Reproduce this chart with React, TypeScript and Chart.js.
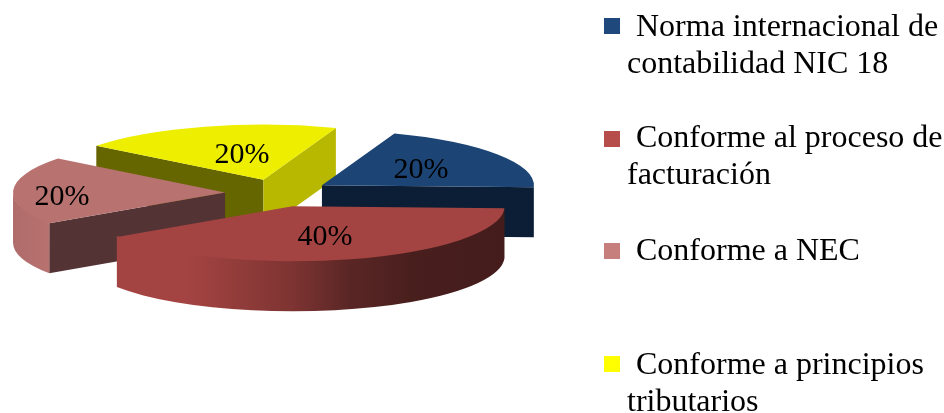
import { useEffect, useRef } from "react";
import { Chart, registerables } from "chart.js";

Chart.register(...registerables);

const SERIF = '"Liberation Serif", "Times New Roman", serif';

const categories = [
  "Norma internacional de contabilidad NIC 18",
  "Conforme al proceso de facturación",
  "Conforme a NEC",
  "Conforme a principios tributarios",
];
const legendLines = [
  ["Norma internacional de", "contabilidad NIC 18"],
  ["Conforme al proceso de", "facturación"],
  ["Conforme a NEC"],
  ["Conforme a principios", "tributarios"],
];
const shares = [20, 40, 20, 20];

const topColors = ["#1C4576", "#A44442", "#B87270", "#EEEE00"];
const legendColors = ["#1F497D", "#B64D4B", "#C77F7D", "#FFFF00"];
const startCutColors = ["#0C1E36", "#431C1B", "#533334", "#666600"];
const endCutColors = ["#0C1E36", "#431C1B", "#533334", "#B8B800"];
const wallStops: [number, string][][] = [
  [[0, "#0C1E36"], [1, "#0C1E36"]],
  [[0, "#A44442"], [0.18, "#A44442"], [0.45, "#7E3432"], [0.6, "#5A2625"], [0.76, "#491F1E"], [1, "#431C1B"]],
  [[0, "#AE6C6A"], [1, "#B87270"]],
  [[0, "#666600"], [1, "#666600"]],
];

// Back-to-front painting order and where each percentage label sits.
const paintOrder = [3, 0, 2, 1];
const labelReach = [0.563, 0.554, 0.77, 0.366];
const labelNudgeY = [2, 2, 6, -5];
const legendTextTops = [7, 118, 231, 345];
const legendMarkerTops = [18, 131, 243, 356];

const TILT = 0.26;
const DEPTH = 50;
const EXPLODE = 53;
const RADIUS = 212;

const pie3d = {
  id: "pie3d",
  beforeDatasetsDraw(chart: any) {
    const { ctx } = chart;
    const arcs = chart.getDatasetMeta(0).data;
    for (const i of paintOrder) {
      const arc = arcs[i];
      const { x, y, startAngle: a, endAngle: b, outerRadius: r } = arc;
      const mid = (a + b) / 2;
      const px = x + EXPLODE * Math.cos(mid);
      const py = y + EXPLODE * Math.sin(mid) * TILT;
      const ry = r * TILT;
      const rimX = (t: number) => px + r * Math.cos(t);
      const rimY = (t: number) => py + ry * Math.sin(t);

      // Flat faces exposed by pulling the slice away from the centre.
      const cut = (angle: number, color: string) => {
        const ex = rimX(angle);
        const ey = rimY(angle);
        ctx.beginPath();
        ctx.moveTo(px, py);
        ctx.lineTo(ex, ey);
        ctx.lineTo(ex, ey + DEPTH);
        ctx.lineTo(px, py + DEPTH);
        ctx.closePath();
        ctx.fillStyle = color;
        ctx.fill();
      };
      if (Math.sin(a - Math.PI / 2) > 0) cut(a, startCutColors[i]);
      if (Math.sin(b + Math.PI / 2) > 0) cut(b, endCutColors[i]);

      // Curved outer wall, only where it faces the viewer. Its upper rim
      // tucks one pixel under the top face so no seam shows between them.
      const w0 = Math.max(a, 0);
      const w1 = Math.min(b, Math.PI);
      if (w1 > w0) {
        const xs = [rimX(w0), rimX(w1)];
        const grad = ctx.createLinearGradient(Math.min(...xs), 0, Math.max(...xs), 0);
        for (const [stop, color] of wallStops[i]) grad.addColorStop(stop, color);
        ctx.beginPath();
        ctx.ellipse(px, py - 1, r, ry, 0, w0, w1);
        ctx.ellipse(px, py + DEPTH, r, ry, 0, w1, w0, true);
        ctx.closePath();
        ctx.fillStyle = grad;
        ctx.fill();
      }

      // Top face: the library's own arc, flattened and moved outwards.
      ctx.save();
      ctx.translate(px, py);
      ctx.scale(1, TILT);
      ctx.translate(-x, -y);
      arc.draw(ctx);
      ctx.restore();
    }

    const total = shares.reduce((s, v) => s + v, 0);
    ctx.save();
    ctx.font = `30px ${SERIF}`;
    ctx.fillStyle = "#000000";
    ctx.textAlign = "center";
    ctx.textBaseline = "middle";
    arcs.forEach((arc: any, i: number) => {
      const mid = (arc.startAngle + arc.endAngle) / 2;
      const reach = EXPLODE + labelReach[i] * arc.outerRadius;
      const lx = arc.x + reach * Math.cos(mid);
      const ly = arc.y + reach * Math.sin(mid) * TILT + labelNudgeY[i];
      ctx.fillText(`${Math.round((shares[i] / total) * 100)}%`, lx, ly);
    });
    ctx.restore();
    return false;
  },
};

export default function App() {
  const canvasRef = useRef<HTMLCanvasElement>(null);

  useEffect(() => {
    const chart = new Chart(canvasRef.current!, {
      type: "pie",
      data: {
        labels: categories,
        datasets: [{ data: shares, backgroundColor: topColors, borderWidth: 0 }],
      },
      options: {
        responsive: false,
        animation: false,
        rotation: 20,
        radius: RADIUS,
        layout: { padding: { left: 0, top: 0, right: 388, bottom: 27 } },
        plugins: { legend: { display: false }, tooltip: { enabled: false } },
      },
      plugins: [pie3d],
    } as any);
    return () => chart.destroy();
  }, []);

  return (
    <div style={{ position: "absolute", left: 0, top: 0, width: 944, height: 413, overflow: "hidden", background: "#fff" }}>
      <canvas ref={canvasRef} width={944} height={413} style={{ position: "absolute", left: 0, top: 0 }} />
      {legendLines.map((lines, i) => (
        <div key={i}>
          <div
            style={{
              position: "absolute",
              left: 604,
              top: legendMarkerTops[i],
              width: 16,
              height: 16,
              background: legendColors[i],
            }}
          />
          <div
            style={{
              position: "absolute",
              left: 627,
              top: legendTextTops[i],
              fontFamily: SERIF,
              fontSize: 32,
              lineHeight: "37px",
              color: "#000",
              whiteSpace: "nowrap",
            }}
          >
            {lines.map((line, j) => (
              <div key={j} style={{ marginLeft: j === 0 ? 9 : 0 }}>
                {line}
              </div>
            ))}
          </div>
        </div>
      ))}
    </div>
  );
}
